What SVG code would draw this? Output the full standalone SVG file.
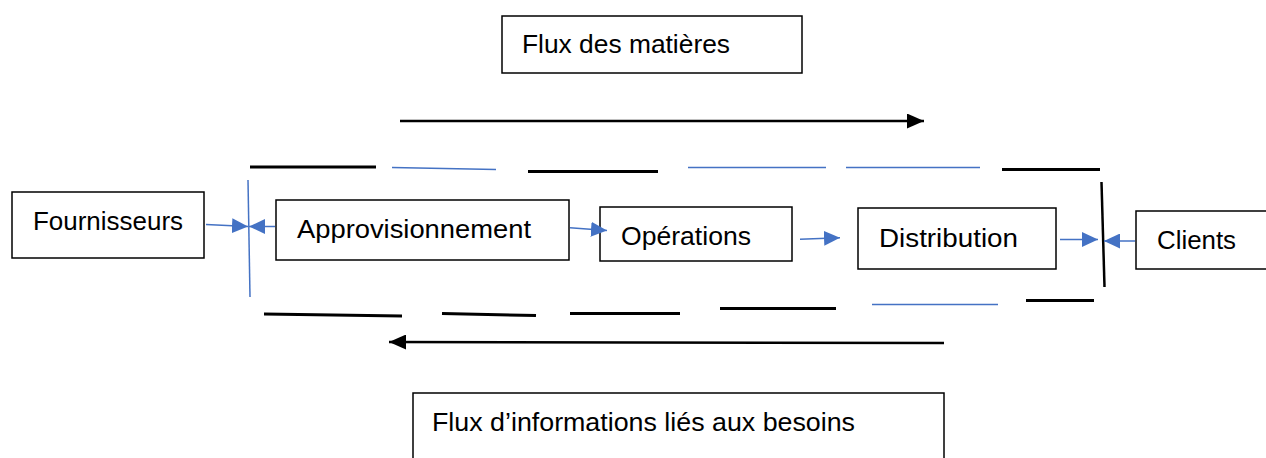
<svg xmlns="http://www.w3.org/2000/svg" width="1266" height="458" viewBox="0 0 1266 458">
  <style>
    .box { fill: #ffffff; stroke: #000000; stroke-width: 1.5; }
    .lbl { font-family: "Liberation Sans", Arial, sans-serif; font-size: 25px; fill: #000000; }
    .link { stroke: #4472C4; stroke-width: 1.5; fill: none; marker-end: url(#blueHead); }
    .dashK { stroke: #000000; stroke-width: 3; }
    .dashB { stroke: #4472C4; stroke-width: 1.5; }
    .flow { stroke: #000000; stroke-width: 2.5; fill: none; }
  </style>
  <defs>
    <marker id="blueHead" markerUnits="userSpaceOnUse" markerWidth="17" markerHeight="15" refX="16" refY="7.5" orient="auto">
      <path d="M0,0 L16,7.5 L0,15 Z" fill="#4472C4"/>
    </marker>
    <marker id="blackHead" markerUnits="userSpaceOnUse" markerWidth="18" markerHeight="15" refX="17" refY="7.5" orient="auto">
      <path d="M0,0 L17,7.5 L0,15 Z" fill="#000000"/>
    </marker>
  </defs>

  <rect width="1266" height="458" fill="#ffffff"/>

  <!-- flow labels -->
  <g id="flux-matieres">
    <rect class="box" x="502" y="16" width="300" height="57"/>
    <text class="lbl" x="522" y="53" textLength="208" lengthAdjust="spacingAndGlyphs">Flux des matières</text>
  </g>
  <g id="flux-informations">
    <rect class="box" x="413" y="393" width="531" height="80"/>
    <text class="lbl" x="432" y="431" textLength="423" lengthAdjust="spacingAndGlyphs">Flux d’informations liés aux besoins</text>
  </g>

  <!-- chain nodes -->
  <g id="fournisseurs">
    <rect class="box" x="12" y="192" width="192" height="66"/>
    <text class="lbl" x="33" y="230" textLength="150" lengthAdjust="spacingAndGlyphs">Fournisseurs</text>
  </g>
  <g id="approvisionnement">
    <rect class="box" x="276" y="200" width="293" height="60"/>
    <text class="lbl" x="297" y="238" textLength="234" lengthAdjust="spacingAndGlyphs">Approvisionnement</text>
  </g>
  <g id="operations">
    <rect class="box" x="600" y="207" width="192" height="54"/>
    <text class="lbl" x="621" y="245" textLength="130" lengthAdjust="spacingAndGlyphs">Opérations</text>
  </g>
  <g id="distribution">
    <rect class="box" x="858" y="208" width="198" height="61"/>
    <text class="lbl" x="879" y="247" textLength="139" lengthAdjust="spacingAndGlyphs">Distribution</text>
  </g>
  <g id="clients">
    <rect class="box" x="1136" y="211" width="140" height="58"/>
    <text class="lbl" x="1157" y="249" textLength="79" lengthAdjust="spacingAndGlyphs">Clients</text>
  </g>

  <!-- chain boundary: dashed outline and end bars -->
  <g id="boundary">
    <line class="dashK" x1="250" y1="167" x2="376" y2="167"/>
    <line class="dashB" x1="392" y1="167.5" x2="496" y2="169.5"/>
    <line class="dashK" x1="528" y1="171.5" x2="658" y2="171.5"/>
    <line class="dashB" x1="688" y1="167.5" x2="826" y2="167.5"/>
    <line class="dashB" x1="846" y1="167.5" x2="980" y2="167.5"/>
    <line class="dashK" x1="1002" y1="169.5" x2="1100" y2="169.5"/>

    <line class="dashK" x1="264" y1="314" x2="402" y2="316"/>
    <line class="dashK" x1="442" y1="313.5" x2="536" y2="315.5"/>
    <line class="dashK" x1="570" y1="313.5" x2="680" y2="313.5"/>
    <line class="dashK" x1="720" y1="308.5" x2="836" y2="308.5"/>
    <line class="dashB" x1="872" y1="304.5" x2="998" y2="304.5"/>
    <line class="dashK" x1="1026" y1="300.5" x2="1094" y2="300.5"/>

    <line x1="248" y1="180" x2="250" y2="297" stroke="#4472C4" stroke-width="1.5"/>
    <line x1="1101.5" y1="182" x2="1104.5" y2="287" stroke="#000000" stroke-width="2.5"/>
  </g>

  <!-- connectors -->
  <g id="connectors">
    <line class="link" x1="206" y1="224.5" x2="248" y2="226.5"/>
    <line class="link" x1="275" y1="226.5" x2="249" y2="226.5"/>
    <line class="link" x1="570" y1="227.7" x2="607" y2="230.5"/>
    <line class="link" x1="800" y1="239.3" x2="840" y2="237.7"/>
    <line class="link" x1="1060" y1="239.5" x2="1098" y2="239.5"/>
    <line class="link" x1="1135" y1="241" x2="1104" y2="241"/>
    <line class="flow" x1="400" y1="121" x2="924" y2="121" marker-end="url(#blackHead)"/>
    <line class="flow" x1="944" y1="343" x2="389" y2="342" marker-end="url(#blackHead)"/>
  </g>
</svg>
